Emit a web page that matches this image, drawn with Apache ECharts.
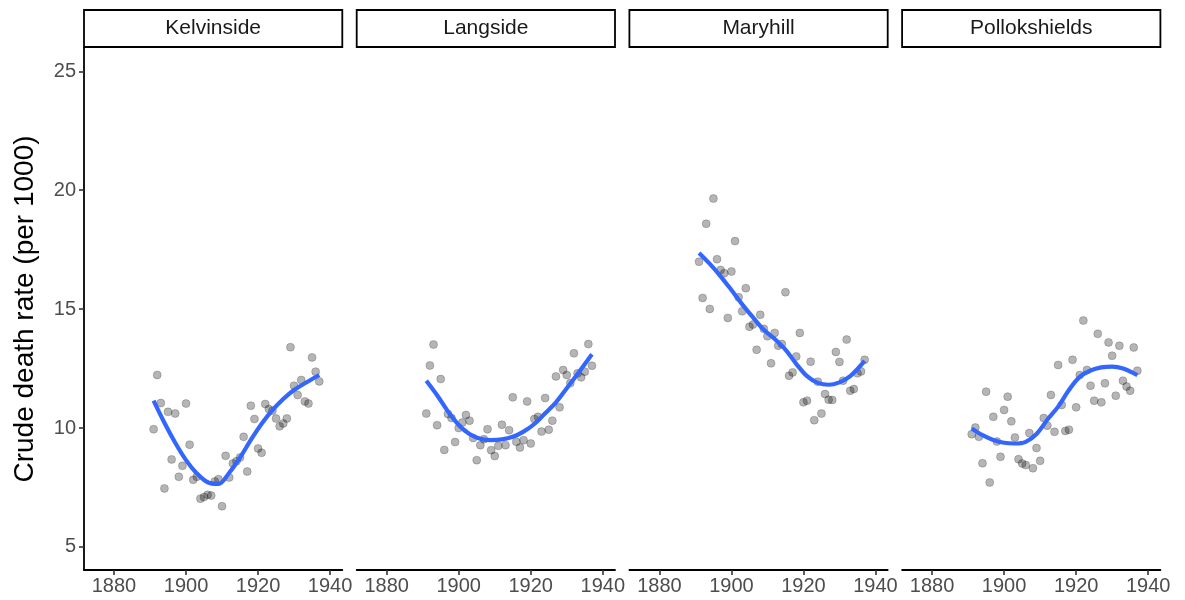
<!DOCTYPE html>
<html>
<head>
<meta charset="utf-8">
<title>Crude death rate by district</title>
<script src="https://cdn.jsdelivr.net/npm/echarts@6/dist/echarts.min.js"></script>
<style>
  html, body { margin: 0; padding: 0; background: #ffffff; }
  #chart { width: 1185px; height: 600px; }
</style>
</head>
<body>
<div id="chart"></div>
<script>
// Districts shown as facets, left to right
const districts = ['Kelvinside', 'Langside', 'Maryhill', 'Pollokshields'];

// One observation per year
const years = [1891, 1892, 1893, 1894, 1895, 1896, 1897, 1898, 1899, 1900,
  1901, 1902, 1903, 1904, 1905, 1906, 1907, 1908, 1909, 1910,
  1911, 1912, 1913, 1914, 1915, 1916, 1917, 1918, 1919, 1920,
  1921, 1922, 1923, 1924, 1925, 1926, 1927, 1928, 1929, 1930,
  1931, 1932, 1933, 1934, 1935, 1936, 1937];

// Crude death rate (per 1000), by year
const kelvinside = [9.95, 12.23, 11.05, 7.46, 10.68, 8.68, 10.61, 7.95, 8.41, 11.03,
  9.30, 7.82, 7.95, 7.03, 7.10, 7.19, 7.16, 7.75, 7.85, 6.71,
  8.83, 7.92, 8.51, 8.60, 8.76, 9.63, 8.17, 10.94, 10.38, 9.14,
  8.96, 11.01, 10.80, 10.73, 10.40, 10.07, 10.19, 10.40, 13.40, 11.78,
  11.39, 12.02, 11.12, 11.03, 12.97, 12.37, 11.96];
const langside = [10.61, 12.63, 13.51, 10.12, 12.06, 9.08, 10.59, 10.42, 9.41, 10.00,
  10.23, 10.55, 10.31, 9.58, 8.65, 9.28, 9.53, 9.95, 9.07, 8.82,
  9.25, 10.14, 9.28, 9.91, 11.29, 9.42, 9.18, 9.49, 11.12, 9.35,
  10.38, 10.47, 9.85, 11.26, 9.93, 10.31, 12.17, 10.87, 12.44, 12.23,
  11.89, 13.14, 12.30, 12.13, 12.37, 13.53, 12.62];
const maryhill = [16.99, 15.47, 18.59, 15.01, 19.65, 17.10, 16.65, 16.51, 14.63, 16.58,
  17.86, 15.50, 14.91, 15.88, 14.26, 14.35, 13.29, 14.76, 14.17, 13.86,
  12.72, 14.00, 13.46, 13.53, 15.71, 12.20, 12.34, 13.01, 14.00, 11.08,
  11.15, 12.79, 10.33, 11.95, 10.61, 11.43, 11.19, 11.18, 13.20, 12.78,
  11.99, 13.72, 11.57, 11.64, 12.30, 12.38, 12.87];
const pollokshields = [9.74, 10.02, 9.63, 8.52, 11.53, 7.71, 10.47, 9.43, 8.79, 10.76,
  11.32, 10.28, 9.60, 8.69, 8.51, 8.44, 9.79, 8.31, 9.16, 8.62,
  10.42, 10.10, 11.39, 9.84, 12.65, 10.97, 9.88, 9.93, 12.87, 10.87,
  12.23, 14.52, 12.44, 11.78, 11.15, 13.96, 11.08, 11.88, 13.60, 13.04,
  11.36, 13.46, 11.99, 11.75, 11.57, 13.39, 12.41];

// Loess trend, read at these years
const fitYears = [1891, 1894, 1897, 1900, 1903, 1906, 1909, 1912, 1915, 1918, 1921, 1924, 1927, 1930, 1933, 1937];
const kelvinsideFit = [11.15, 10.22, 9.38, 8.65, 8.09, 7.72, 7.65, 8.12, 8.76, 9.50, 10.18, 10.75, 11.22, 11.60, 11.88, 12.23];
const langsideFit = [11.99, 11.38, 10.70, 10.13, 9.75, 9.55, 9.49, 9.52, 9.63, 9.85, 10.17, 10.62, 11.08, 11.67, 12.27, 13.10];
const maryhillFit = [17.36, 16.90, 16.38, 15.80, 15.20, 14.65, 14.13, 13.75, 13.30, 12.70, 12.18, 11.90, 11.82, 11.92, 12.18, 12.82];
const pollokshieldsFit = [9.98, 9.70, 9.50, 9.38, 9.35, 9.42, 9.75, 10.35, 10.90, 11.60, 12.15, 12.42, 12.55, 12.58, 12.50, 12.22];

// Axis ticks
const xTicks = [1880, 1900, 1920, 1940];
const yTicks = [5, 10, 15, 20, 25];

const rates = [kelvinside, langside, maryhill, pollokshields];
const fits = [kelvinsideFit, langsideFit, maryhillFit, pollokshieldsFit];

// Panel geometry
const panelLeft0 = 84, panelStep = 272.7, panelWidth = 258.3;
const panelTop = 48, panelBottom = 570;
const stripTop = 10, stripHeight = 37;
const fontFamily = '"Liberation Sans", Arial, sans-serif';

const grids = [], xAxes = [], yAxes = [], series = [], graphics = [];

districts.forEach(function (name, i) {
  const left = panelLeft0 + i * panelStep;
  grids.push({ left: left, top: panelTop, width: panelWidth, height: panelBottom - panelTop, containLabel: false });

  xAxes.push({
    type: 'value', gridIndex: i, min: 1871.67, max: 1943.4,
    splitLine: { show: false },
    axisLine: { show: true, onZero: false, lineStyle: { color: '#000000', width: 1.8 } },
    axisTick: { show: true, length: 5, customValues: xTicks, lineStyle: { color: '#333333', width: 1.6 } },
    axisLabel: {
      show: true, customValues: xTicks, color: '#4d4d4d', fontSize: 20, fontFamily: fontFamily, margin: 6,
      formatter: function (v) { return String(v); }
    }
  });

  const first = i === 0;
  yAxes.push({
    type: 'value', gridIndex: i, min: 4.03, max: 25.98,
    name: first ? 'Crude death rate (per 1000)' : '',
    nameLocation: 'middle', nameGap: 45,
    nameTextStyle: { color: '#000000', fontSize: 28, fontFamily: fontFamily },
    splitLine: { show: false },
    axisLine: { show: first, onZero: false, lineStyle: { color: '#000000', width: 1.8 } },
    axisTick: { show: first, length: 5, customValues: yTicks, lineStyle: { color: '#333333', width: 1.6 } },
    axisLabel: {
      show: first, customValues: yTicks, color: '#4d4d4d', fontSize: 20, fontFamily: fontFamily, margin: 8,
      formatter: function (v) { return String(v); }
    }
  });

  series.push({
    type: 'scatter', xAxisIndex: i, yAxisIndex: i,
    data: years.map(function (y, k) { return [y, rates[i][k]]; }),
    symbolSize: 8,
    itemStyle: { color: 'rgba(0,0,0,0.36)', borderColor: 'rgba(0,0,0,0.3)', borderWidth: 0.8 },
    z: 2
  });
  series.push({
    type: 'line', xAxisIndex: i, yAxisIndex: i,
    data: fitYears.map(function (y, k) { return [y, fits[i][k]]; }),
    smooth: 0.35, showSymbol: false, symbol: 'none',
    lineStyle: { color: '#3366FF', width: 4.2 },
    z: 3
  });

  // Facet strip with district name
  graphics.push({
    type: 'rect',
    shape: { x: left, y: stripTop, width: panelWidth, height: stripHeight },
    style: { fill: '#ffffff', stroke: '#000000', lineWidth: 1.8 }
  });
  graphics.push({
    type: 'text',
    x: left + panelWidth / 2, y: stripTop + stripHeight / 2,
    style: { text: name, fill: '#1a1a1a', font: '21px ' + fontFamily, align: 'center', verticalAlign: 'middle' }
  });
});

const chart = echarts.init(document.getElementById('chart'), null, { renderer: 'canvas' });
chart.setOption({
  backgroundColor: '#ffffff',
  animation: false,
  grid: grids,
  xAxis: xAxes,
  yAxis: yAxes,
  series: series,
  graphic: graphics
});
</script>
</body>
</html>
